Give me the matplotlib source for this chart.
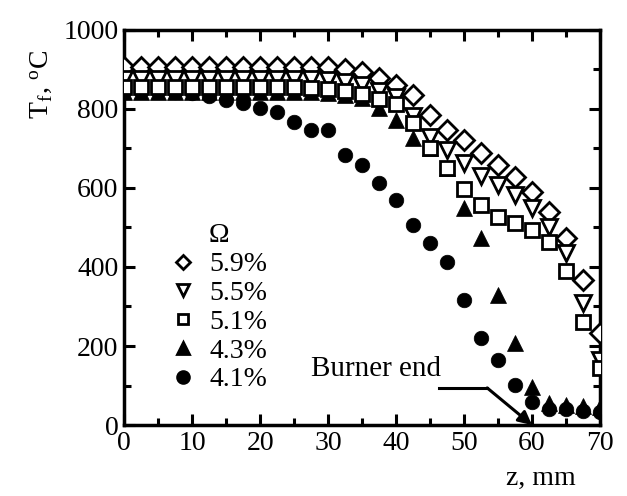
import matplotlib
matplotlib.use("Agg")
import matplotlib.pyplot as plt
from matplotlib.ticker import MultipleLocator
import numpy as np

plt.rcParams['font.family'] = ['Liberation Serif', 'DejaVu Serif']
plt.rcParams['mathtext.fontset'] = 'stix'

z = [0, 2.5, 5, 7.5, 10, 12.5, 15, 17.5, 20, 22.5, 25, 27.5, 30, 32.5, 35,
     37.5, 40, 42.5, 45, 47.5, 50, 52.5, 55, 57.5, 60, 62.5, 65, 67.5, 70]

t59 = [905, 905, 905, 905, 905, 905, 905, 905, 905, 905, 905, 905, 905, 900, 894,
       878, 861, 835, 785, 747, 722, 689, 658, 628, 590, 539, 473, 367, 233]
t55 = [875, 875, 875, 875, 875, 875, 875, 875, 875, 875, 875, 875, 872, 868, 860,
       845, 830, 782, 729, 696, 663, 630, 608, 582, 549, 501, 435, 309, 165]
t51 = [855, 855, 855, 855, 855, 855, 855, 855, 855, 855, 855, 853, 850, 845, 838,
       825, 812, 765, 701, 650, 597, 557, 527, 511, 494, 463, 390, 262, 144]
t43 = [843, 843, 843, 843, 843, 843, 843, 843, 843, 843, 843, 842, 840, 835, 828,
       803, 772, 727, 700, 650, 549, 473, 329, 207, 96, 55, 50, 48, 45]
t41 = [845, 845, 845, 843, 840, 832, 823, 815, 802, 792, 767, 747, 747, 684, 658,
       613, 570, 506, 461, 413, 316, 220, 165, 101, 58, 40, 40, 35, 32]

labels = ['5.9%', '5.5%', '5.1%', '4.3%', '4.1%']

fig = plt.figure(figsize=(6.27, 4.96), dpi=100)
ax = fig.add_axes([0.198, 0.143, 0.759, 0.797])

lw = 2.0
h1, = ax.plot(z, t59, ls='none', marker='D', ms=10, mfc='white', mec='black', mew=lw, zorder=3)
h2, = ax.plot(z, t55, ls='none', marker='v', ms=11, mfc='white', mec='black', mew=lw, zorder=4)
h3, = ax.plot(z, t51, ls='none', marker='s', ms=9.5, mfc='white', mec='black', mew=lw, zorder=5)
h4, = ax.plot(z, t43, ls='none', marker='^', ms=12, mfc='black', mec='black', mew=0.5, zorder=2)
h5, = ax.plot(z, t41, ls='none', marker='o', ms=10.5, mfc='black', mec='black', mew=0.5, zorder=1)

ax.set_xlim(0, 70)
ax.set_ylim(0, 1000)
ax.xaxis.set_major_locator(MultipleLocator(10))
ax.xaxis.set_minor_locator(MultipleLocator(5))
ax.yaxis.set_major_locator(MultipleLocator(200))
ax.yaxis.set_minor_locator(MultipleLocator(100))
ax.tick_params(which='both', direction='in', top=True, right=True, width=2.2)
ax.tick_params(which='major', length=8, labelsize=20, pad=4)
ax.tick_params(which='minor', length=5)
for s in ax.spines.values():
    s.set_linewidth(2.5)

fig.text(0.065, 0.83, r'T$_\mathregular{f}$, $^\mathregular{o}$C', rotation=90,
         fontsize=20, ha='center', va='center')
fig.text(0.863, 0.035, 'z, mm', fontsize=20, ha='center', va='center')

# legend
leg_handles = []
for m, fc, ms in [('D', 'white', 7), ('v', 'white', 8), ('s', 'white', 7),
                  ('^', 'black', 9), ('o', 'black', 8.5)]:
    l, = ax.plot([], [], ls='none', marker=m, ms=ms, mfc=fc, mec='black', mew=2.0)
    leg_handles.append(l)
leg = ax.legend(leg_handles, labels, title='Ω', frameon=False, fontsize=20,
                title_fontsize=20, loc='upper left', bbox_to_anchor=(0.095, 0.51),
                handlelength=1.0, handletextpad=0.45, labelspacing=0.12,
                borderaxespad=0, borderpad=0)

# Burner end annotation
ax.text(46.6, 142, 'Burner end', fontsize=21, ha='right', va='center')
ax.plot([46.3, 53.4], [94, 94], color='black', lw=2.2)
ax.annotate('', xy=(60, 0), xytext=(53.4, 94),
            arrowprops=dict(arrowstyle='-|>', color='black', lw=2.2, mutation_scale=20,
                            shrinkA=0, shrinkB=0))

fig.savefig('out.png', dpi=100)
